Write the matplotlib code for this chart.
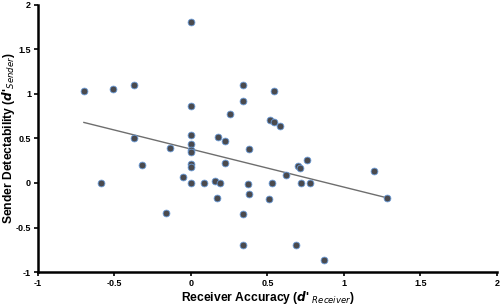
import numpy as np
import matplotlib
matplotlib.use("Agg")
import matplotlib.pyplot as plt

# receiver accuracy (d' receiver) and sender detectability (d' sender)
receiver = [-0.70, -0.51, -0.37, -0.37, -0.32, -0.59, -0.165, -0.14, -0.054,
            0.0, 0.0, 0.0, 0.0, 0.0, 0.0, 0.0, 0.0, 0.0,
            0.085, 0.157, 0.19, 0.17, 0.22, 0.174, 0.22, 0.257,
            0.34, 0.34, 0.34, 0.34, 0.375, 0.38, 0.38,
            0.53, 0.51, 0.545, 0.52, 0.545, 0.58, 0.62,
            0.70, 0.71, 0.76, 0.72, 0.78, 0.69, 0.87, 1.20, 1.28]
sender = [1.03, 1.06, 1.10, 0.51, 0.20, 0.0, -0.34, 0.39, 0.07,
          1.81, 0.87, 0.54, 0.44, 0.37, 0.35, 0.21, 0.18, 0.0,
          0.0, 0.02, 0.0, -0.17, 0.22, 0.52, 0.47, 0.78,
          1.10, 0.92, -0.35, -0.70, -0.015, -0.12, 0.38,
          0.0, -0.18, 1.03, 0.71, 0.69, 0.64, 0.09,
          0.19, 0.17, 0.26, 0.0, 0.0, -0.70, -0.87, 0.14, -0.165]

# linear fit shown in the figure
fit_slope = -0.427
fit_intercept = 0.381

fig = plt.figure(figsize=(5.02, 3.05), dpi=100)
ax = fig.add_axes([0.0757, 0.108, 0.914, 0.876])

ax.scatter(receiver, sender, s=24, color="#4a4a4e", edgecolors="#6a9bd8",
           linewidths=0.6, zorder=3)

xf = np.array([min(receiver), max(receiver)])
ax.plot(xf, fit_intercept + fit_slope * xf, color="#6e6e6e", linewidth=1.0, zorder=2)

ax.set_xlim(-1, 2)
ax.set_ylim(-1, 2)
ax.set_xticks([-1, -0.5, 0, 0.5, 1, 1.5, 2])
ax.set_xticklabels(["-1", "-0.5", "0", "0.5", "1", "1.5", "2"])
ax.set_yticks([-1, -0.5, 0, 0.5, 1, 1.5, 2])
ax.set_yticklabels(["-1", "-0.5", "0", "0.5", "1", "1.5", "2"])

for s in ["top", "right"]:
    ax.spines[s].set_visible(False)
for s in ["left", "bottom"]:
    ax.spines[s].set_linewidth(1.8)
    ax.spines[s].set_color("black")

ax.tick_params(direction="out", length=3, width=1.2, labelsize=6.5, pad=2)
for lab in ax.get_xticklabels() + ax.get_yticklabels():
    lab.set_fontweight("bold")
    lab.set_family("Liberation Sans")

ax.set_xlabel(r"Receiver Accuracy ($\boldsymbol{d}$' $_{Receiver}$)", fontsize=8.7,
              fontweight="bold", family="Liberation Sans")
ax.set_ylabel(r"Sender Detectability ($\boldsymbol{d}$'$_{Sender}$)", fontsize=8.7,
              fontweight="bold", family="Liberation Sans")
ax.xaxis.set_label_coords(0.5, -0.062)
ax.yaxis.set_label_coords(-0.046, 0.5)

fig.savefig("out.png", dpi=100)
